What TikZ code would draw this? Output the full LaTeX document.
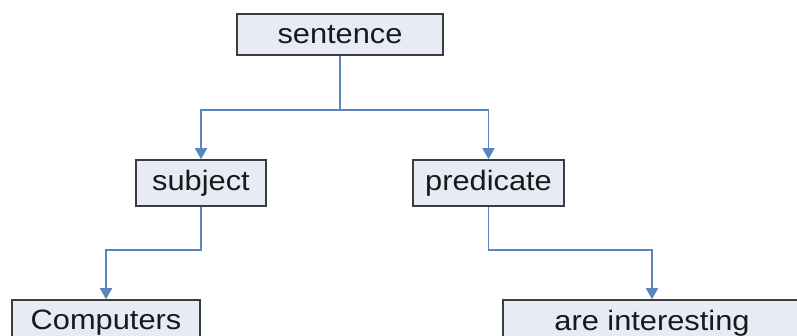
\documentclass[tikz,border=0pt]{standalone}
\usepackage{fontspec}
\setmainfont{Liberation Sans}[FakeStretch=1.1]
\usetikzlibrary{arrows.meta}
\definecolor{boxfill}{HTML}{E6EBF6}
\definecolor{boxline}{HTML}{3C3C3C}
\definecolor{connline}{HTML}{5A86BE}
\tikzset{
  wbox/.style={draw=boxline, line width=1.6pt, fill=boxfill, inner sep=0pt,
    font=\fontsize{28}{30}\selectfont, text=black!90, anchor=center, minimum height=46pt},
  conn/.style={draw=connline, line width=1.8pt, -{Triangle[width=12pt,length=11pt]}},
}
\begin{document}
\begin{tikzpicture}[x=1pt,y=1pt]
\useasboundingbox (0,0) rectangle (797,-336);
\clip (0,0) rectangle (797,-336);
\fill[white] (0,0) rectangle (797,-336);
\node[wbox, minimum width=206pt, minimum height=41pt] (sent) at (340,-34.5) {sentence};
\node[wbox, minimum width=130pt] (subj) at (201,-183) {subject};
\node[wbox, minimum width=151pt] (pred) at (488.5,-183) {predicate};
\node[wbox, minimum width=188pt] (comp) at (106,-323) {Computers};
\node[wbox, minimum width=298pt] (are) at (652,-323) {are interesting};
\coordinate (j1) at (340,-110);
\coordinate (j2) at (201,-250);
\coordinate (j3) at (488.5,-250);
\draw[conn] (sent.south) -- (j1) -| (subj.north);
\draw[conn] (j1) -| (pred.north);
\draw[conn] (subj.south) -- (j2) -| (comp.north);
\draw[conn] (pred.south) -- (j3) -| (are.north);
\end{tikzpicture}
\end{document}
